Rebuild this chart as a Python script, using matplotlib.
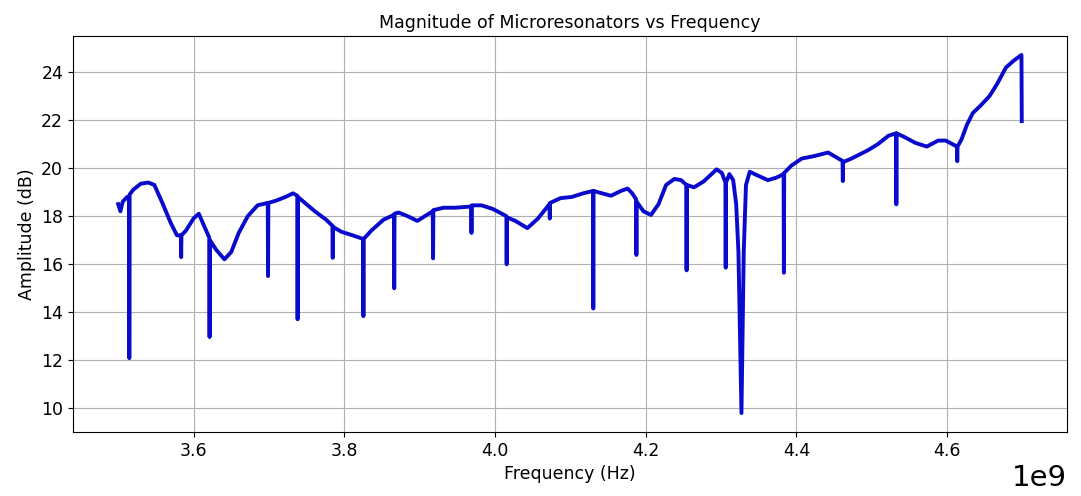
import numpy as np
import matplotlib
matplotlib.use('Agg')
from matplotlib import pyplot as plt

# frequency in GHz (plotted as Hz), amplitude in dB
freq_ghz = [
    3.500, 3.503, 3.506, 3.512, 3.5145, 3.5148, 3.5152, 3.520, 3.530, 3.540,
    3.548, 3.558, 3.570, 3.578, 3.5832, 3.5836, 3.5840, 3.590, 3.600, 3.607,
    3.614, 3.6209, 3.6213, 3.6217, 3.630, 3.641, 3.650, 3.660, 3.672, 3.685,
    3.6985, 3.6989, 3.6993, 3.710, 3.722, 3.732, 3.7377, 3.7381, 3.7385, 3.746,
    3.761, 3.776, 3.7843, 3.7847, 3.7851, 3.796, 3.811, 3.8250, 3.8254, 3.8258,
    3.836, 3.852, 3.8659, 3.8663, 3.8667, 3.872, 3.884, 3.897, 3.907, 3.9174,
    3.9178, 3.9182, 3.932, 3.947, 3.9684, 3.9688, 3.9692, 3.982, 3.997, 4.0151,
    4.0155, 4.0159, 4.027, 4.043, 4.057, 4.0723, 4.0727, 4.0731, 4.087, 4.102,
    4.117, 4.1300, 4.1304, 4.1308, 4.142, 4.154, 4.167, 4.176, 4.182, 4.1872,
    4.1876, 4.1880, 4.197, 4.207, 4.217, 4.227, 4.238, 4.247, 4.2538, 4.2542,
    4.2546, 4.264, 4.277, 4.294, 4.301, 4.3057, 4.3061, 4.3065, 4.311, 4.316,
    4.320, 4.323, 4.327, 4.330, 4.333, 4.338, 4.348, 4.362, 4.373, 4.3829,
    4.3833, 4.3837, 4.393, 4.407, 4.423, 4.442, 4.453, 4.4611, 4.4615, 4.4619,
    4.473, 4.495, 4.508, 4.522, 4.5321, 4.5325, 4.5329, 4.543, 4.558, 4.573,
    4.588, 4.598, 4.610, 4.6129, 4.6133, 4.6137, 4.619, 4.626, 4.634, 4.644,
    4.656, 4.666, 4.678, 4.689, 4.6985, 4.6989,
]
amp_db = [
    18.50, 18.20, 18.60, 18.80, 18.80, 12.08, 18.90, 19.10, 19.35, 19.40,
    19.30, 18.60, 17.70, 17.20, 17.20, 16.29, 17.20, 17.40, 17.90, 18.10,
    17.60, 17.10, 12.96, 17.00, 16.60, 16.20, 16.50, 17.30, 18.00, 18.45,
    18.55, 15.50, 18.55, 18.65, 18.80, 18.95, 18.85, 13.70, 18.80, 18.60,
    18.20, 17.85, 17.60, 16.26, 17.55, 17.35, 17.20, 17.05, 13.83, 17.05,
    17.40, 17.85, 18.05, 14.99, 18.10, 18.15, 18.00, 17.80, 18.00, 18.20,
    16.24, 18.25, 18.35, 18.35, 18.40, 17.30, 18.45, 18.45, 18.30, 18.00,
    15.99, 17.95, 17.80, 17.50, 17.90, 18.50, 17.90, 18.55, 18.75, 18.80,
    18.95, 19.05, 14.15, 19.05, 18.95, 18.85, 19.05, 19.15, 18.95, 18.70,
    16.38, 18.60, 18.20, 18.05, 18.50, 19.30, 19.55, 19.50, 19.30, 15.74,
    19.30, 19.20, 19.45, 19.95, 19.80, 19.40, 15.85, 19.40, 19.75, 19.50,
    18.50, 16.50, 9.79, 16.50, 19.30, 19.85, 19.70, 19.50, 19.60, 19.75,
    15.64, 19.80, 20.10, 20.40, 20.50, 20.65, 20.45, 20.30, 19.46, 20.25,
    20.40, 20.75, 21.00, 21.35, 21.45, 18.49, 21.45, 21.30, 21.05, 20.90,
    21.15, 21.15, 20.95, 20.90, 20.29, 20.90, 21.20, 21.80, 22.30, 22.60,
    23.00, 23.50, 24.20, 24.50, 24.72, 21.96,
]

freq_hz = np.array(freq_ghz) * 1e9
amp = np.array(amp_db)

plt.rcParams['font.size'] = 12.5

fig = plt.figure(figsize=(10.81, 4.96), dpi=100)
ax = fig.add_axes([0.0675, 0.129, 0.9195, 0.798])
ax.plot(freq_hz, amp, color='#0a0acd', lw=2.8)
ax.set_title('Magnitude of Microresonators vs Frequency', fontsize=12.5)
ax.set_xlabel('Frequency (Hz)')
ax.set_ylabel('Amplitude (dB)')
ax.set_yticks([10, 12, 14, 16, 18, 20, 22, 24])
ax.set_ylim(9.0, 25.5)
ax.grid(True)
ax.xaxis.get_offset_text().set_fontsize(21)
fig.savefig('out.png', dpi=100)
